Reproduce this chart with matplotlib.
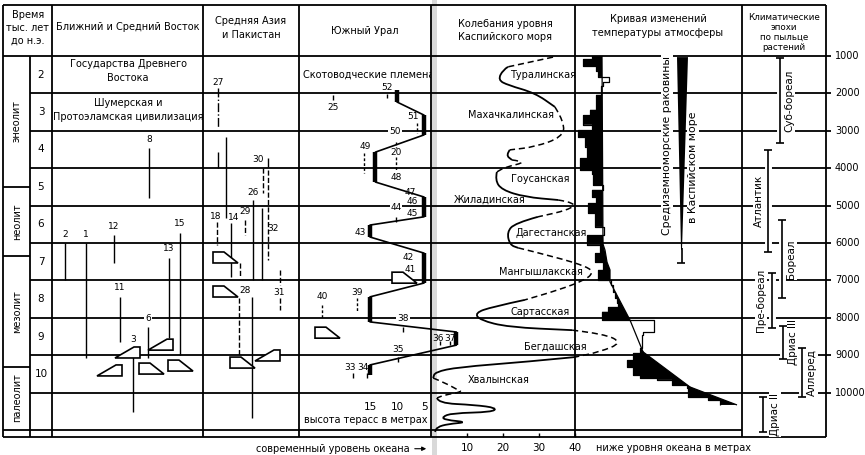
import matplotlib.pyplot as plt
import matplotlib.patheffects as pe
from matplotlib.path import Path
from matplotlib.patches import PathPatch, Polygon, Rectangle
import numpy as np

plt.rcParams['font.family'] = ['DejaVu Sans']
plt.rcParams['lines.solid_capstyle'] = 'butt'

# ---------------- data (time in thousands of years BC) ----------------
row_labels = ['2', '3', '4', '5', '6', '7', '8', '9', '10']
scale_labels = ['1000', '2000', '3000', '4000', '5000',
                '6000', '7000', '8000', '9000', '10000']
periods = ['энеолит', 'неолит', 'мезолит', 'палеолит']
period_bounds = [1.0, 4.5, 6.35, 9.32, 10.95]

# Caspian sea level, metres below ocean level
caspian_t = [1.03, 1.29, 1.37, 1.64, 1.78, 1.99, 2.36, 2.79, 3.17, 3.43,
             3.51, 3.65, 3.78, 3.83, 3.97, 4.10, 4.32, 4.58, 4.77, 4.85,
             4.93, 5.12, 5.30, 5.47, 5.71, 6.05, 6.13, 6.37, 6.64, 6.80,
             6.99, 7.26, 7.52, 7.71, 7.87, 8.06, 8.25, 8.33, 8.43, 8.67,
             8.91, 9.05, 9.18, 9.32, 9.45, 9.61, 9.74, 9.93, 9.98, 10.06,
             10.14, 10.28, 10.33, 10.41, 10.52, 10.55, 10.65, 10.73, 10.79, 10.84,
             10.92, 11.05]
caspian_d = [33.9, 21.4, 20.0, 18.6, 21.4, 28.9, 34.4, 37.2, 36.4, 28.9,
             21.9, 20.8, 22.5, 26.9, 20.6, 18.3, 17.8, 19.7, 26.1, 35.3,
             40.6, 38.1, 29.7, 23.3, 21.1, 21.9, 24.2, 34.4, 43.6, 45.0,
             42.8, 35.3, 26.1, 16.9, 12.2, 13.6, 21.4, 39.2, 48.3, 53.1,
             46.9, 40.0, 26.1, 7.5, 1.1, 0.6, 3.9, 7.5, 8.6, 3.9,
             1.7, 1.9, 12.2, 18.3, 16.9, 5.8, 3.1, 3.9, 10.3, 4.7,
             1.7, 1.1]
# 1 = reconstructed (dashed) stretch towards the next point
caspian_dash = [1, 0, 0, 0, 0, 0, 1, 1, 1, 1,
                0, 0, 1, 1, 1, 0, 0, 0, 0, 1,
                1, 1, 0, 0, 0, 0, 1, 1, 1, 1,
                1, 1, 0, 0, 0, 0, 0, 1, 1, 1,
                1, 0, 0, 0, 0, 1, 1, 1, 1, 1,
                0, 0, 0, 0, 0, 0, 0, 0, 0, 0, 0]
caspian_names = ['Туралинская', 'Махачкалинская', 'Гоусанская', 'Жиладинская',
                 'Дагестанская', 'Мангышлакская', 'Сартасская', 'Бегдашская',
                 'Хвалынская']
caspian_name_d = [21.9, 10.3, 22.2, 6.4, 23.6, 18.9, 22.2, 25.8, 10.3]
caspian_name_t = [1.51, 2.58, 4.29, 4.85, 5.73, 6.78, 7.84, 8.78, 9.66]
caspian_ticks = [10, 20, 30, 40]

# temperature curve (arbitrary units), step boundaries and values
temp_edges = [1.0, 1.08, 1.27, 1.40, 1.56, 1.70, 1.80, 2.04, 2.44, 2.58,
              2.84, 2.98, 3.17, 3.43, 3.73, 4.05, 4.16, 4.45, 4.58, 4.77,
              4.93, 5.20, 5.57, 5.79, 6.05, 6.27, 6.51, 6.72, 6.99, 7.12,
              7.31, 7.47, 7.60, 7.71, 7.84, 8.06, 8.38, 8.46, 8.81, 8.94,
              9.13, 9.32, 9.53, 9.61, 9.66, 9.80, 9.88, 10.12, 10.20, 10.33]
temp_u = [17, 8, 21, 23, 34, 28, 26, 21, 15, 8,
          17, 3, 10, 12, 5, 17, 18, 28, 17, 21,
          13, 20, 29, 12, 25, 20, 28, 23, 36, 38,
          40, 42, 43, 33, 27, 79, 68, 67, 65, 58,
          52, 58, 65, 82, 97, 112, 113, 133, 145]
temp_ref_t = [1.0, 6.03, 6.19, 6.51, 6.72, 7.04, 8.06, 8.91, 9.85, 10.33]
temp_ref_u = [27, 28, 30, 32, 35, 35, 55, 68, 115, 162]
shells_from, shells_to = 1.03, 6.53

# terraces of the Southern Urals, height in metres
terrace_h = [10, 5, 14, 5, 15, 5, 15, -1, 15]
terrace_top = [1.91, 2.58, 3.57, 4.77, 5.52, 6.27, 7.44, 8.38, 9.26]
terrace_bot = [2.23, 3.11, 4.37, 5.30, 5.84, 7.07, 8.11, 8.73, 9.53]
terrace_ticks = [15, 10, 5]

# climatic epochs by pollen
climate_names = ['Суб-бореал', 'Атлантик', 'Бореал', 'Пре-бореал',
                 'Дриас III', 'Аллеред', 'Дриас II']
climate_from = [1.05, 3.51, 5.39, 6.80, 8.22, 8.81, 10.12]
climate_to = [3.33, 6.24, 7.47, 8.27, 9.10, 10.12, 11.05]

# sites: Near and Middle East
ne_labels = ['8', '12', '15', '2', '1', '13', '11', '6', '3']
ne_from = [3.46, 5.79, 5.73, 6.0, 6.0, 6.40, 7.44, 8.25, 8.81]
ne_to = [4.80, 6.53, 9.0, 6.99, 9.07, 8.54, 8.65, 9.07, 10.52]
ne_x = [149, 114, 180, 65, 86, 169, 120, 148, 133]

# sites: Central Asia and Pakistan
ca_labels = ['27', '30', '26', '18', '14', '29', '32', '28', '31']
ca_label_t = [1.70, 3.78, 4.66, 5.28, 5.33, 5.17, 5.60, 7.28, 7.31]
ca_label_x = [218, 258, 253, 216, 234, 245, 273, 245, 279]
ca_from = [1.86, 3.57, 3.17, 3.73, 3.99, 4.05, 4.85, 5.44, 5.47, 5.39,
           5.06, 6.53, 7.47, 7.44, 6.72, 7.47]
ca_to = [2.93, 3.99, 5.33, 3.97, 4.66, 6.45, 6.99, 6.05, 6.91, 5.79,
         6.99, 6.91, 9.05, 10.68, 7.12, 7.79]
ca_x = [218, 218, 226, 268, 263, 268, 253, 217, 231, 245,
        262, 240, 239, 252, 280, 280]
ca_ls = ['-.', '-', '-', '-', '--', '--', '-', '--', '-', '--',
         '-', '--', '--', '-', '--', '--']

# sites: Southern Urals
ur_labels = ['52', '25', '51', '50', '49', '20', '48', '47', '46', '45',
             '44', '43', '42', '41', '39', '40', '38', '35', '33', '34', '36', '37']
ur_label_t = [1.83, 2.39, 2.63, 3.03, 3.43, 3.59, 4.24, 4.64, 4.90, 5.20,
              5.06, 5.73, 6.40, 6.70, 7.31, 7.44, 8.01, 8.86, 9.32, 9.32, 8.54, 8.54]
ur_label_x = [387, 333, 413, 395, 365, 396, 396, 410, 412, 412,
              396, 360, 408, 410, 357, 322, 403, 398, 350, 363, 438, 450]
ur_from = [2.02, 2.04, 2.79, 3.30, 3.70, 3.59, 5.30, 7.47, 7.66, 8.25, 9.05, 9.48, 9.48, 8.62, 8.62]
ur_to = [2.12, 2.18, 3.06, 3.46, 4.05, 4.13, 5.44, 7.84, 8.01, 8.38, 9.18, 9.61, 9.61, 8.73, 8.73]
ur_x = [387, 333, 417, 396, 396, 364, 396, 357, 322, 403, 398, 353, 367, 440, 450]
ur_dashed = [0, 0, 1, 1, 1, 1, 0, 1, 1, 0, 0, 0, 0, 0, 0]

# stone tool symbols (left edge, top)
tool_x = [115, 148, 97, 139, 168, 213, 213, 230, 255, 392, 315]
tool_t = [8.78, 8.57, 9.26, 9.21, 9.13, 6.24, 7.15, 9.05, 8.86, 6.78, 8.25]
tool_kind = ['B', 'B', 'B', 'A', 'A', 'A', 'A', 'A', 'B', 'A', 'A']

# ---------------- layout ----------------
T_TOP, T_BOT = -0.497, 11.668
HEAD, BASE = -0.364, 11.2
PX = 1 / 37.4
K = 'black'
LW = 1.3
FS = 7

fig = plt.figure(figsize=(8.65, 4.55), dpi=100)


def overlay(x0, x1):
    a = fig.add_axes([0, 0, 1, 1])
    a.set_xlim(x0, x1)
    a.set_ylim(T_BOT, T_TOP)
    a.axis('off')
    a.patch.set_alpha(0)
    return a


ax = overlay(0, 865)                                 # page layout
axc = overlay(-431 / 3.6, (865 - 431) / 3.6)         # depth, m
axh = overlay(451 / 5.4, (451 - 865) / 5.4)          # terrace height, m
axt = overlay(-575, 290)                             # temperature units

knock = [pe.Stroke(linewidth=5, foreground='white'), pe.Normal()]
wbox = dict(facecolor='white', edgecolor='none', pad=0.6)

# frame
ax.axvspan(432, 437, color='0.85', lw=0, zorder=0)
ax.plot([3, 826], [HEAD, HEAD], color=K, lw=LW)
ax.plot([3, 826], [BASE, BASE], color=K, lw=LW)
ax.plot([3, 831], [1, 1], color=K, lw=LW)
for i in range(2, 11):
    ax.plot([30, 831], [i, i], color=K, lw=LW)
ax.plot([3, 742], [11, 11], color=K, lw=LW)
for x in [3, 52, 203, 299, 431, 575, 742, 826]:
    ax.plot([x, x], [HEAD, BASE], color=K, lw=LW)
ax.plot([30, 30], [1, BASE], color=K, lw=LW)
for b in period_bounds[1:-1]:
    ax.plot([3, 30], [b, b], color=K, lw=LW)

# headers
hd = dict(ha='center', va='center', fontsize=FS)
ax.text(28, 0.25, 'Время\nтыс. лет\nдо н.э.', linespacing=1.4, **hd)
ax.text(128, 0.23, 'Ближний и Средний Восток', **hd)
ax.text(251, 0.25, 'Средняя Азия\nи Пакистан', linespacing=1.4, **hd)
ax.text(365, 0.34, 'Южный Урал', **hd)
ax.text(505, 0.32, 'Колебания уровня\nКаспийского моря', linespacing=1.4, **hd)
ax.text(658, 0.20, 'Кривая изменений\nтемпературы атмосферы', linespacing=1.55, **hd)
ax.text(784, 0.37, 'Климатические\nэпохи\nпо пыльце\nрастений',
        linespacing=1.15, ha='center', va='center', fontsize=6.3)

for i, lab in enumerate(row_labels):
    ax.text(41, 1.5 + i, lab, ha='center', va='center', fontsize=7.5)
for i, lab in enumerate(periods):
    ax.text(17, (period_bounds[i] + period_bounds[i + 1]) / 2, lab, rotation=90,
            ha='center', va='center', fontsize=FS)
for i, lab in enumerate(scale_labels):
    ax.text(835, 1 + i, lab, ha='left', va='center', fontsize=FS)

ax.text(128, 1.40, 'Государства Древнего\nВостока', linespacing=1.5, **hd)
ax.text(128, 2.44, 'Шумерская и\nПротоэламская цивилизация', linespacing=1.45, **hd)
herd = ax.text(303, 1.51, 'Скотоводческие племена', ha='left', va='center',
               fontsize=FS, clip_on=True)
herd.set_clip_path(Rectangle((299, 0), 132, 3, transform=ax.transData))

# Near East sites
for lab, x, a, b in zip(ne_labels, ne_x, ne_from, ne_to):
    ax.plot([x, x], [a, b], color=K, lw=1.0)
    ax.text(x, a - 9 * PX, lab, ha='center', va='center', fontsize=6.5,
            bbox=wbox if lab == '6' else None)

# Central Asia sites
for x, a, b, ls in zip(ca_x, ca_from, ca_to, ca_ls):
    ax.plot([x, x], [a, b], color=K, lw=1.0, ls=ls)
for lab, x, t in zip(ca_labels, ca_label_x, ca_label_t):
    ax.text(x, t, lab, ha='center', va='center', fontsize=6.5)

# Southern Urals sites
for x, a, b, d in zip(ur_x, ur_from, ur_to, ur_dashed):
    ax.plot([x, x], [a, b], color=K, lw=1.0, ls=(0, (2, 1.5)) if d else '-')
for lab, x, t in zip(ur_labels, ur_label_x, ur_label_t):
    ax.text(x, t, lab, ha='center', va='center', fontsize=6.5,
            bbox=wbox if lab in ('50', '44', '38') else None)

# tool symbols
shapes = {'A': [(0, 0), (11, 0), (25, 11), (0, 11)],
          'B': [(0, 11), (19, 0), (25, 0), (25, 11)]}
for x, t, k in zip(tool_x, tool_t, tool_kind):
    pts = [(x + dx, t + dy * PX) for dx, dy in shapes[k]]
    ax.add_patch(Polygon(pts, closed=True, facecolor='white', edgecolor=K,
                         lw=1.2, zorder=3))

# terraces
tx, tt = [], []
for h, a, b in zip(terrace_h, terrace_top, terrace_bot):
    tx += [h, h]
    tt += [a, b]
    axh.plot([h, h], [a, b], color=K, lw=3.2)
axh.plot(tx, tt, color=K, lw=1.2)
for h in terrace_ticks:
    axh.text(h, 10.39, str(h), ha='center', va='center', fontsize=7.5)
ax.text(366, 10.73, 'высота терасс в метрах', ha='center', va='center', fontsize=FS)


# Caspian curve
def smooth(xs, ys):
    p = np.column_stack([xs, ys])
    if len(p) < 3:
        return Path(p)
    verts, codes = [p[0]], [Path.MOVETO]
    for i in range(1, len(p) - 1):
        verts += [p[i], (p[i] + p[i + 1]) / 2]
        codes += [Path.CURVE3, Path.CURVE3]
    verts.append(p[-1])
    codes.append(Path.LINETO)
    return Path(verts, codes)


start = 0
for i in range(1, len(caspian_dash) + 1):
    if i == len(caspian_dash) or caspian_dash[i] != caspian_dash[start]:
        seg = slice(start, i + 1)
        dash = caspian_dash[start]
        axc.add_patch(PathPatch(smooth(caspian_d[seg], caspian_t[seg]), fill=False,
                                edgecolor=K, lw=1.3 if not dash else 1.1,
                                ls=(0, (4, 2.5)) if dash else '-'))
        start = i
for name, d, t in zip(caspian_names, caspian_name_d, caspian_name_t):
    axc.text(d, t, name, ha='left', va='center', fontsize=FS)
for d in caspian_ticks:
    axc.plot([d, d], [BASE, BASE - 4 * PX], color=K, lw=1.0)
    axc.text(d, 11.48, str(d), ha='center', va='center', fontsize=7.5)
ax.text(410, 11.5, 'современный уровень океана', ha='right', va='center', fontsize=FS)
ax.annotate('', xy=(429, 11.5), xytext=(412, 11.5),
            arrowprops=dict(arrowstyle='-|>', color=K, lw=0.8, mutation_scale=6))
ax.text(596, 11.48, 'ниже уровня океана в метрах', ha='left', va='center', fontsize=FS)

# temperature curve
st, su = [], []
for i, v in enumerate(temp_u):
    st += [temp_edges[i], temp_edges[i + 1]]
    su += [v, v]
st, su = np.array(st), np.array(su, dtype=float)
ref = np.interp(st, temp_ref_t, temp_ref_u)
axt.fill_betweenx(st, su, ref, where=su <= ref, color=K, lw=0, interpolate=True)
axt.plot(su, st, color=K, lw=0.9)
axt.plot(temp_ref_u, temp_ref_t, color=K, lw=0.9)

# Mediterranean shells in the Caspian
axt.add_patch(Polygon([(102, shells_from), (113, shells_from), (107, shells_to - 0.35),
                       (106, shells_to - 0.35)], closed=True, color=K, lw=0, zorder=5))
axt.plot([106.5, 106.5], [shells_to - 0.4, shells_to], color=K, lw=1.2)
axt.plot([102, 110], [shells_to, shells_to], color=K, lw=1.2)
ax.text(667, 3.38, 'Средиземноморские раковины', rotation=90, ha='center',
        va='center', fontsize=7.8, bbox=wbox, zorder=4)
ax.text(693, 3.97, 'в Каспийском море', rotation=90, ha='center',
        va='center', fontsize=7.8, bbox=wbox, zorder=4)

# climatic epochs
bar_x = [780, 768, 782, 772, 783, 802, 763]
lab_dx = [9, -9, 9, -11, 10, 10, 12]
for name, a, b, x, dx in zip(climate_names, climate_from, climate_to, bar_x, lab_dx):
    ax.plot([x, x], [a, b], color=K, lw=1.2, path_effects=knock, zorder=4)
    for t in (a, b):
        ax.plot([x - 4, x + 4], [t, t], color=K, lw=1.2, zorder=4)
    ax.text(x + dx, (a + b) / 2, name, rotation=90, ha='center', va='center',
            fontsize=7.5, bbox=wbox, zorder=4)

fig.savefig('out.png', dpi=100)
